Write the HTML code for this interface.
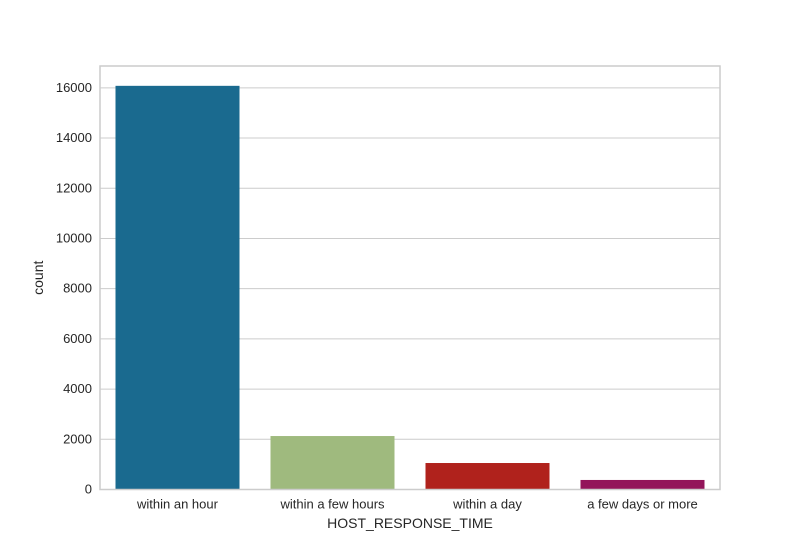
<!DOCTYPE html>
<html><head><meta charset="utf-8"><style>
body{margin:0;background:#fff;font-family:"Liberation Sans","DejaVu Sans",sans-serif}
</style></head><body>
<svg id="chart" width="800" height="550" xmlns="http://www.w3.org/2000/svg" font-family="Liberation Sans, DejaVu Sans, sans-serif"></svg>
<script>
const categories=["within an hour","within a few hours","within a day","a few days or more"];
const counts=[16080,2130,1055,380];
const colors=["#1a6a8f","#9fba7e","#b0221c","#93155a"];
const yTicks=[0,2000,4000,6000,8000,10000,12000,14000,16000];
const L=100,R=720,T=66,B=489.5,yMax=16870;
const svg=document.getElementById('chart');
const NS="http://www.w3.org/2000/svg";
function y(v){return B-(v/yMax)*(B-T);}
const band=(R-L)/categories.length;
function x(i){return L+band*i;}
function mk(t,a,txt){const e=document.createElementNS(NS,t);for(const k in a)e.setAttribute(k,a[k]);if(txt!==undefined)e.textContent=txt;svg.appendChild(e);return e;}
yTicks.forEach(v=>{
 const g=mk('line',{x1:L,x2:R,y1:y(v),y2:y(v),stroke:'#cccccc','stroke-width':1});
 
 
 const t=mk('text',{x:L-8,y:y(v)+4,'text-anchor':'end','font-size':13,fill:'#262626'},String(v));
 
 
});
categories.forEach((c,i)=>{
 const bw=band*0.8;
 const r=mk('rect',{x:x(i)+band*0.1,y:y(counts[i]),width:bw,height:B-y(counts[i]),fill:colors[i]});
 
 
 const t=mk('text',{x:x(i)+band/2,y:B+19,'text-anchor':'middle','font-size':13,fill:'#262626'},c);
 
 
});
const f=mk('rect',{x:L,y:T,width:R-L,height:B-T,fill:'none',stroke:'#cccccc','stroke-width':1.5});


const xt=mk('text',{x:(L+R)/2,y:528,'text-anchor':'middle','font-size':14,fill:'#262626'},'HOST_RESPONSE_TIME');


const yt=mk('text',{x:43,y:(T+B)/2,'text-anchor':'middle','font-size':14,fill:'#262626',transform:'rotate(-90 43 '+((T+B)/2)+')'},'count');


</script>
</body></html>
